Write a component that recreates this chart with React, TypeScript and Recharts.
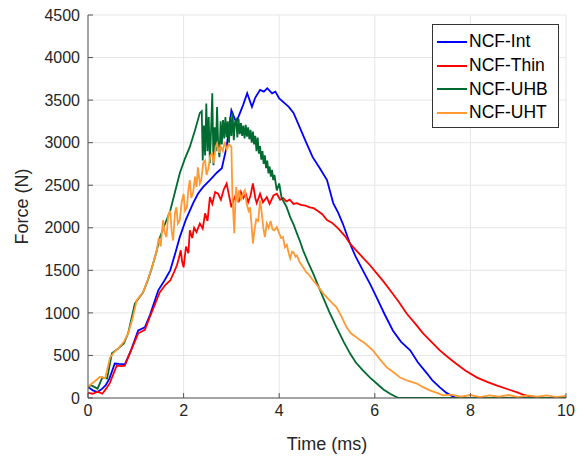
import React from "react";
import {
  LineChart,
  Line,
  XAxis,
  YAxis,
  CartesianGrid,
} from "recharts";

// time (ms) / force (N) traces
const intTime = [0, 0.1, 0.2, 0.3, 0.37, 0.45, 0.56, 0.65, 0.77, 0.9, 1.05, 1.19, 1.3, 1.47, 1.6, 1.72, 1.82, 1.92, 2.05, 2.2, 2.3, 2.41, 2.55, 2.7, 2.8, 2.9, 3.0, 3.1, 3.18, 3.25, 3.33, 3.43, 3.5, 3.6, 3.68, 3.75, 3.85, 3.92, 4.0, 4.1, 4.2, 4.3, 4.43, 4.55, 4.7, 4.85, 5.0, 5.13, 5.23, 5.33, 5.48, 5.6, 5.75, 5.9, 6.04, 6.2, 6.38, 6.55, 6.74, 6.9, 7.09, 7.2, 7.36, 7.5, 7.64, 7.72];
const intForce = [130, 90, 70, 110, 150, 230, 405, 400, 395, 560, 795, 830, 980, 1265, 1380, 1500, 1690, 1890, 2100, 2290, 2400, 2480, 2560, 2650, 2700, 2950, 3380, 3240, 3350, 3450, 3580, 3420, 3530, 3620, 3600, 3640, 3580, 3600, 3520, 3470, 3420, 3350, 3180, 3020, 2830, 2700, 2560, 2290, 2180, 2050, 1815, 1660, 1500, 1340, 1180, 990, 790, 660, 560, 420, 290, 210, 125, 60, 15, 0];

const thinTime = [0, 0.1, 0.2, 0.3, 0.38, 0.46, 0.6, 0.7, 0.77, 0.9, 1.05, 1.19, 1.3, 1.5, 1.62, 1.72, 1.8, 1.86, 1.9, 1.94, 1.97, 2.0, 2.05, 2.1, 2.13, 2.18, 2.22, 2.27, 2.34, 2.4, 2.45, 2.5, 2.55, 2.6, 2.66, 2.72, 2.78, 2.84, 2.9, 2.95, 3.0, 3.05, 3.1, 3.15, 3.2, 3.25, 3.3, 3.35, 3.4, 3.45, 3.5, 3.53, 3.6, 3.66, 3.74, 3.8, 3.88, 3.95, 4.02, 4.08, 4.15, 4.22, 4.3, 4.37, 4.45, 4.55, 4.64, 4.72, 4.8, 4.9, 5.0, 5.1, 5.2, 5.27, 5.38, 5.48, 5.6, 5.75, 5.9, 6.04, 6.18, 6.32, 6.5, 6.67, 6.85, 7.01, 7.2, 7.36, 7.55, 7.71, 7.9, 8.14, 8.35, 8.56, 8.8, 8.98, 9.1, 9.25, 9.4, 10];
const thinForce = [60, 50, 75, 50, 110, 180, 380, 375, 380, 560, 760, 800, 960, 1240, 1330, 1380, 1480, 1560, 1640, 1735, 1600, 1535, 1780, 1700, 1970, 1880, 2000, 1950, 2050, 1990, 2170, 2080, 2360, 2280, 2420, 2400, 2330, 2450, 2520, 2380, 2240, 2330, 2400, 2300, 2420, 2350, 2400, 2300, 2380, 2520, 2350, 2290, 2400, 2300, 2360, 2280, 2380, 2400, 2330, 2350, 2310, 2330, 2280, 2290, 2270, 2260, 2240, 2230, 2200, 2160, 2090, 2060, 2010, 1970, 1900, 1815, 1740, 1650, 1560, 1465, 1370, 1265, 1130, 990, 870, 760, 650, 560, 470, 400, 320, 240, 190, 145, 100, 65, 40, 15, 0, 0];

const uhbTime = [0, 0.05, 0.1, 0.2, 0.3, 0.4, 0.5, 0.63, 0.75, 0.84, 0.98, 1.15, 1.25, 1.34, 1.44, 1.5, 1.6, 1.72, 1.82, 1.92, 2.02, 2.13, 2.24, 2.34, 2.38,
  2.4, 2.425, 2.45, 2.475, 2.5, 2.525, 2.55, 2.575, 2.6, 2.625, 2.65, 2.675, 2.7, 2.725, 2.75, 2.775, 2.8, 2.825, 2.85, 2.875, 2.9, 2.925, 2.95, 2.975, 3.0, 3.025, 3.05, 3.075, 3.1, 3.125, 3.15, 3.175, 3.2, 3.225, 3.25, 3.275, 3.3, 3.325, 3.35, 3.375, 3.4, 3.425, 3.45, 3.475, 3.5, 3.525, 3.55, 3.575, 3.6, 3.625, 3.65, 3.675, 3.7, 3.725, 3.75, 3.775, 3.8, 3.825, 3.85, 3.875, 3.9,
  3.95, 4.0, 4.05, 4.08, 4.15, 4.23, 4.3, 4.37, 4.43, 4.5, 4.6, 4.71, 4.8, 4.92, 5.05, 5.2, 5.35, 5.48, 5.6, 5.75, 5.9, 6.04, 6.18, 6.32, 6.42, 6.5, 10];
const uhbForce = [120, 150, 140, 110, 240, 230, 525, 580, 640, 760, 1110, 1240, 1380, 1535, 1735, 1880, 2030, 2200, 2420, 2640, 2800, 2950, 3150, 3350, 3370,
  2790, 3200, 2850, 3460, 2900, 3300, 2760, 3150, 3580, 2735, 3180, 2900, 3420, 2950, 2830, 3250, 2980, 3265, 3050, 3300, 3065, 3250, 3000, 3300, 3080, 3350, 3030, 3240, 3265, 3060, 3280, 3100, 3230, 3080, 3200, 3050, 3210, 3070, 3180, 3040, 3150, 3000, 3130, 2980, 3080, 2900, 3060, 2870, 2960, 2800, 2900, 2750, 2850, 2700, 2790, 2640, 2720, 2600, 2680, 2560, 2620,
  2440, 2520, 2350, 2320, 2250, 2125, 2040, 1935, 1850, 1735, 1600, 1465, 1340, 1180, 1010, 830, 660, 525, 420, 325, 240, 170, 100, 50, 20, 0, 0];

const uhtTime = [0, 0.08, 0.15, 0.25, 0.36, 0.46, 0.55, 0.63, 0.75, 0.84, 0.93, 1.02, 1.15, 1.25, 1.34, 1.44,
  1.48, 1.52, 1.57, 1.6, 1.64, 1.68, 1.72, 1.75, 1.78, 1.82, 1.85, 1.88, 1.92, 1.96, 2.0, 2.03, 2.07, 2.1, 2.13, 2.16, 2.2, 2.24, 2.27, 2.3, 2.34, 2.37, 2.41, 2.45, 2.48, 2.52, 2.56, 2.6, 2.63, 2.67, 2.7, 2.74, 2.77, 2.82, 2.86, 2.9, 2.95, 3.0,
  3.02, 3.04, 3.06, 3.08, 3.1, 3.13, 3.16, 3.2, 3.24, 3.28, 3.32, 3.36, 3.39, 3.42, 3.45, 3.48, 3.52, 3.56, 3.6, 3.63, 3.67, 3.7, 3.74, 3.78, 3.82, 3.86, 3.9, 3.95, 4.0, 4.04, 4.08, 4.12, 4.16, 4.2, 4.23, 4.27, 4.3, 4.34, 4.37, 4.43, 4.5, 4.56, 4.62, 4.71, 4.8, 4.92, 5.0, 5.1, 5.2, 5.3, 5.41, 5.5, 5.6, 5.69, 5.8, 5.96, 6.1, 6.25, 6.4, 6.53, 6.7, 6.88, 7.0, 7.15, 7.3, 7.43, 7.6, 7.8, 8.0, 8.2, 8.4, 8.6, 8.8, 9.0, 9.2, 9.4, 9.6, 9.8, 10];
const uhtForce = [130, 170, 200, 250, 230, 475, 540, 580, 660, 760, 930, 1150, 1240, 1390, 1535, 1735,
  1880, 1780, 2090, 1950, 1890, 2150, 2200, 1960, 1850, 2180, 2240, 2050, 2090, 2300, 2400, 2200, 2240, 2450, 2560, 2350, 2420, 2600, 2480, 2710, 2520, 2560, 2760, 2790, 2620, 2700, 2850, 2870, 2760, 2950, 2990, 2880, 2960, 2900, 3010, 2920, 2980, 2950,
  2400, 2170, 1935, 2250, 2480, 2300, 2440, 2320, 2400, 2440, 2280, 2200, 2240, 2050, 1815, 1960, 2100, 2080, 2320, 2200, 1990, 1890, 2050, 2000, 2080, 1980, 1970, 2010, 1935, 1880, 1890, 1770, 1800, 1700, 1640, 1720, 1710, 1660, 1675, 1595, 1535, 1480, 1450, 1380, 1320, 1230, 1180, 1120, 1065, 960, 830, 760, 720, 680, 640, 560, 460, 360, 300, 240, 200, 170, 130, 90, 60, 30, 40, 15, 35, 10, 30, 15, 35, 10, 30, 15, 30, 10, 25];

const xTicks = [0, 2, 4, 6, 8, 10];
const yTicks = [0, 500, 1000, 1500, 2000, 2500, 3000, 3500, 4000, 4500];

const toPoints = (t: number[], f: number[]) => t.map((x, i) => ({ t: x, f: f[i] }));

const series = [
  { name: "NCF-Int", color: "#0000ff", data: toPoints(intTime, intForce) },
  { name: "NCF-Thin", color: "#ff0000", data: toPoints(thinTime, thinForce) },
  { name: "NCF-UHB", color: "#006b31", data: toPoints(uhbTime, uhbForce) },
  { name: "NCF-UHT", color: "#ff9933", data: toPoints(uhtTime, uhtForce) },
];

const FONT = "'Liberation Sans', Arial, sans-serif";
const tickStyle = { fontSize: 16, fill: "#262626", fontFamily: FONT };

function LegendBox() {
  return (
    <div
      style={{
        position: "absolute",
        left: 432,
        top: 24,
        width: 127,
        height: 104,
        boxSizing: "border-box",
        border: "1px solid #333",
        background: "#fff",
        paddingTop: 5,
        fontFamily: FONT,
        fontSize: 17.5,
        color: "#000",
      }}
    >
      {series.map((s) => (
        <div key={s.name} style={{ display: "flex", alignItems: "center", height: 23.7 }}>
          <div style={{ width: 30, height: 2, background: s.color, marginLeft: 4, marginRight: 2 }} />
          <span>{s.name}</span>
        </div>
      ))}
    </div>
  );
}

export default function App() {
  return (
    <div style={{ margin: -8, width: 585, height: 462, background: "#fff", position: "relative" }}>
      <LineChart width={585} height={462} margin={{ top: 15, right: 19, bottom: 24, left: 28 }}>
        <CartesianGrid stroke="#e6e6e6" strokeWidth={1} />
        <XAxis
          dataKey="t"
          type="number"
          domain={[0, 10]}
          ticks={xTicks}
          allowDataOverflow
          height={40}
          stroke="#555"
          tickSize={-5}
          tickMargin={12}
          tick={tickStyle}
          label={{ value: "Time (ms)", position: "insideBottom", offset: -12, style: { fontSize: 18, fill: "#262626", fontFamily: FONT } }}
        />
        <XAxis xAxisId="top" orientation="top" type="number" domain={[0, 10]} ticks={xTicks} height={0} stroke="#555" tickSize={-5} tick={false} />
        <YAxis
          type="number"
          domain={[0, 4500]}
          ticks={yTicks}
          allowDataOverflow
          width={60}
          stroke="#555"
          tickSize={-5}
          tickMargin={13}
          tick={tickStyle}
          label={{ value: "Force (N)", angle: -90, position: "insideLeft", offset: -6, style: { textAnchor: "middle", fontSize: 18, fill: "#262626", fontFamily: FONT } }}
        />
        <YAxis yAxisId="right" orientation="right" type="number" domain={[0, 4500]} ticks={yTicks} width={0} stroke="#555" tickSize={-5} tick={false} />
        {series.map((s) => (
          <Line
            key={s.name}
            data={s.data}
            dataKey="f"
            name={s.name}
            type="linear"
            stroke={s.color}
            strokeWidth={1.8}
            dot={false}
            isAnimationActive={false}
          />
        ))}
      </LineChart>
      <LegendBox />
    </div>
  );
}
